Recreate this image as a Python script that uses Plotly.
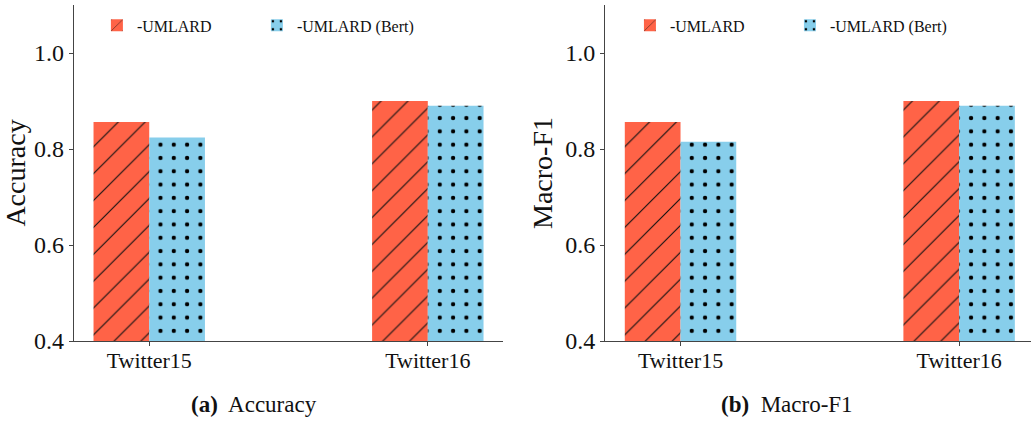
import plotly.graph_objects as go

categories = ["Twitter15", "Twitter16"]
series_names = ["-UMLARD", "-UMLARD (Bert)"]
acc_umlard = [0.856, 0.900]
acc_bert = [0.824, 0.890]
f1_umlard = [0.856, 0.900]
f1_bert = [0.815, 0.890]
y_ticks = [0.4, 0.6, 0.8, 1.0]

ORANGE = "#FF6347"
BLUE = "#87CEEB"
SERIF = "Liberation Serif, Times New Roman, serif"
AXC = "#444444"

fig = go.Figure()

def add_pair(vals1, vals2, xa, ya, legend, show):
    fig.add_trace(go.Bar(
        x=categories, y=vals1, name=series_names[0], xaxis=xa, yaxis=ya,
        offsetgroup="a", legend=legend, showlegend=show,
        marker=dict(color=ORANGE, line=dict(width=0),
                    pattern=dict(shape="/", fgcolor="#111111", bgcolor=ORANGE,
                                 size=19, solidity=0.06, fillmode="replace")),
    ))
    fig.add_trace(go.Bar(
        x=categories, y=vals2, name=series_names[1], xaxis=xa, yaxis=ya,
        offsetgroup="b", legend=legend, showlegend=show,
        marker=dict(color=BLUE, line=dict(width=0),
                    pattern=dict(shape=".", fgcolor="#000000", bgcolor=BLUE,
                                 size=13.3, solidity=0.08, fillmode="replace")),
    ))

add_pair(acc_umlard, acc_bert, "x", "y", "legend", True)
add_pair(f1_umlard, f1_bert, "x2", "y2", "legend2", True)

xcommon = dict(
    type="category", showline=True, linecolor=AXC, linewidth=1.3,
    ticks="outside", ticklen=4, tickcolor=AXC, showgrid=False, zeroline=False,
    ticklabelstandoff=-5,
    tickfont=dict(family=SERIF, size=22, color="#111111"),
)
ycommon = dict(
    range=[0.4, 1.1], tickvals=y_ticks, tickformat=".1f",
    showline=True, linecolor=AXC, linewidth=1.3,
    ticks="outside", ticklen=4, tickcolor=AXC, showgrid=False, zeroline=False,
    tickfont=dict(family=SERIF, size=24, color="#111111"),
)

fig.update_layout(
    width=1031, height=422,
    margin=dict(l=0, r=0, t=5, b=81),
    paper_bgcolor="white", plot_bgcolor="white",
    barmode="group", bargap=0.6, bargroupgap=0,
    xaxis=dict(xcommon, domain=[0.0718, 0.4879], range=[-0.27, 1.27], anchor="y"),
    yaxis=dict(ycommon, domain=[0, 1], anchor="x",
               title=dict(text="Accuracy", font=dict(family=SERIF, size=28, color="#111111"), standoff=4)),
    xaxis2=dict(xcommon, domain=[0.5871, 1.0], range=[-0.27, 1.258], anchor="y2"),
    yaxis2=dict(ycommon, domain=[0, 1], anchor="x2",
                title=dict(text="Macro-F1", font=dict(family=SERIF, size=28, color="#111111"), standoff=4)),
    legend=dict(orientation="h", x=0.094, y=0.99, xanchor="left", yanchor="top",
                font=dict(family=SERIF, size=16, color="#111111"),
                bgcolor="rgba(0,0,0,0)", entrywidth=115, itemwidth=30),
    legend2=dict(orientation="h", x=0.611, y=0.99, xanchor="left", yanchor="top",
                 font=dict(family=SERIF, size=16, color="#111111"),
                 bgcolor="rgba(0,0,0,0)", entrywidth=115, itemwidth=30),
    annotations=[
        dict(text="<b>(a)</b>  Accuracy", x=254 / 1031, y=-0.1875, xref="paper", yref="paper",
             xanchor="center", yanchor="middle", showarrow=False,
             font=dict(family=SERIF, size=23, color="#111111")),
        dict(text="<b>(b)</b>  Macro-F1", x=787 / 1031, y=-0.1875, xref="paper", yref="paper",
             xanchor="center", yanchor="middle", showarrow=False,
             font=dict(family=SERIF, size=23, color="#111111")),
    ],
)

fig.write_html("out.html", config={"displayModeBar": False},
               post_script="document.body.style.margin='0';document.body.style.overflow='hidden';")
